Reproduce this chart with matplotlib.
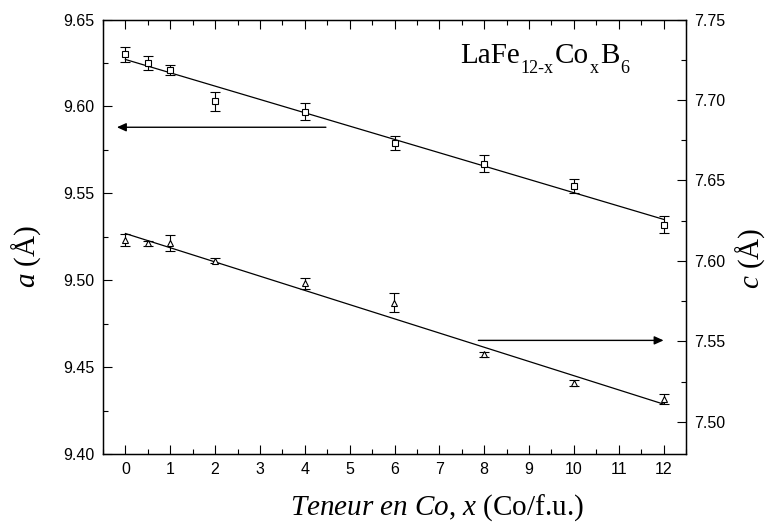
import matplotlib
matplotlib.use("Agg")
import matplotlib.pyplot as plt
import matplotlib.transforms as mtransforms
from matplotlib.ticker import MultipleLocator, FormatStrFormatter

# data
x = [0, 0.5, 1, 2, 4, 6, 8, 10, 12]
a = [9.630, 9.625, 9.621, 9.603, 9.597, 9.579, 9.567, 9.554, 9.532]
a_err = [0.0043, 0.004, 0.003, 0.0055, 0.005, 0.004, 0.005, 0.004, 0.005]
c = [7.613, 7.611, 7.611, 7.600, 7.586, 7.574, 7.542, 7.524, 7.514]
c_err = [0.004, 0.0015, 0.005, 0.0015, 0.0033, 0.006, 0.0015, 0.002, 0.003]
fit_x = [0, 12]
a_fit = [9.627, 9.535]
c_fit = [7.617, 7.511]
formula = [("LaFe", False), ("12-x", True), ("Co", False), ("x", True),
           ("B", False), ("6", True)]

plt.rcParams["font.family"] = ["Liberation Sans", "DejaVu Sans"]
plt.rcParams["mathtext.fontset"] = "custom"
plt.rcParams["mathtext.rm"] = "Liberation Serif"
plt.rcParams["mathtext.it"] = "Liberation Serif:italic"
serif = ["Liberation Serif", "DejaVu Serif"]

fig = plt.figure(figsize=(7.68, 5.24), dpi=100)
ax = fig.add_axes([103 / 768, 1 - 454 / 524, 583 / 768, 434.5 / 524])
ax2 = ax.twinx()

ax.errorbar(x, a, yerr=a_err, fmt="s", ms=4, mfc="white", mec="black", mew=0.8,
            ecolor="black", elinewidth=0.8, capsize=3.5, capthick=0.8)
ax.plot(fit_x, a_fit, color="black", lw=0.9)
ax2.errorbar(x, c, yerr=c_err, fmt="^", ms=4.5, mfc="white", mec="black", mew=0.8,
             ecolor="black", elinewidth=0.8, capsize=3.5, capthick=0.8)
ax2.plot(fit_x, c_fit, color="black", lw=0.9)

arrow = dict(arrowstyle="-|>,head_length=0.55,head_width=0.25", color="black",
             lw=1, shrinkA=0, shrinkB=0)
ax.annotate("", xy=(-0.19, 9.588), xytext=(4.47, 9.588), arrowprops=arrow)
ax2.annotate("", xy=(12.0, 7.5506), xytext=(7.87, 7.5506), arrowprops=arrow)

ax.set_xlim(-0.5, 12.5)
ax.set_ylim(9.40, 9.65)
ax2.set_ylim(7.48, 7.75)

ax.xaxis.set_major_locator(MultipleLocator(1))
ax.xaxis.set_minor_locator(MultipleLocator(0.5))
ax.yaxis.set_major_locator(MultipleLocator(0.05))
ax.yaxis.set_minor_locator(MultipleLocator(0.025))
ax.yaxis.set_major_formatter(FormatStrFormatter("%.2f"))
ax2.yaxis.set_major_locator(MultipleLocator(0.05))
ax2.yaxis.set_minor_locator(MultipleLocator(0.025))
ax2.yaxis.set_major_formatter(FormatStrFormatter("%.2f"))

ax.tick_params(which="both", direction="in", top=True, right=False, width=0.8,
               labelsize=11.5, pad=6)
ax.tick_params(which="major", length=6.5)
ax.tick_params(which="minor", length=3.5)
ax2.tick_params(which="both", direction="in", width=0.8, labelsize=11.5, pad=6)
ax2.tick_params(which="major", length=6.5)
ax2.tick_params(which="minor", length=3.5)
for sp in ax.spines.values():
    sp.set_linewidth(1.0)

# chemical formula: pieces laid out one after another, subscripts dropped low
renderer = fig.canvas.get_renderer()
dx = 0
for txt, sub in formula:
    tr = mtransforms.offset_copy(ax.transData, fig, x=dx, y=-10 if sub else 0,
                                 units="dots")
    t = ax.text(7.46, 9.625, txt, fontsize=13 if sub else 21, family=serif,
                ha="left", va="baseline", transform=tr)
    dx += t.get_window_extent(renderer).width + 1

fig.text(26 / 768, 1 - 256 / 524, r"$a$ (Å)", fontsize=21, family=serif,
         rotation=90, ha="center", va="center")
fig.text(750 / 768, 1 - 258 / 524, r"$c$ (Å)", fontsize=21, family=serif,
         rotation=90, ha="center", va="center")
fig.text(437 / 768, 1 - 508 / 524, r"$Teneur\ en\ Co$, $x$ (Co/f.u.)",
         fontsize=21, family=serif, ha="center", va="center")

fig.savefig("out.png", dpi=100)
